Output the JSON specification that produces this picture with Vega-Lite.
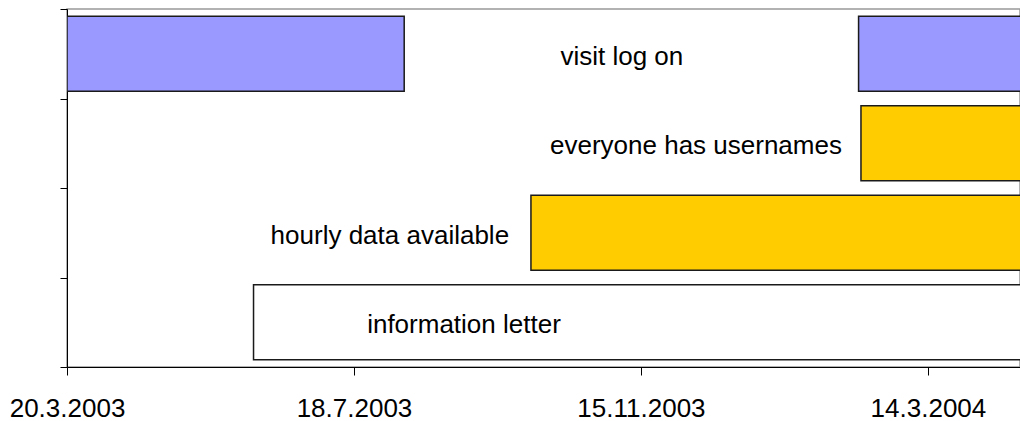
{
  "$schema": "https://vega.github.io/schema/vega-lite/v6.json",
  "autosize": {"type": "none"},
  "width": 953,
  "height": 358,
  "padding": {"left": 67, "top": 9, "right": 0, "bottom": 54},
  "background": "white",
  "config": {
    "view": {"stroke": "#999999", "strokeWidth": 1.5},
    "font": "Liberation Sans"
  },
  "datasets": {
    "bars": [
      {"task": "visit log on", "start": "2003-03-20", "end": "2003-08-08"},
      {"task": "visit log on", "start": "2004-02-14", "end": "2004-07-31"},
      {"task": "everyone has usernames", "start": "2004-02-15", "end": "2004-07-31"},
      {"task": "hourly data available", "start": "2003-09-30", "end": "2004-07-31"},
      {"task": "information letter", "start": "2003-06-06", "end": "2004-07-31"}
    ],
    "labels": [
      {"task": "visit log on", "at": "2003-11-07"},
      {"task": "everyone has usernames", "at": "2003-12-08"},
      {"task": "hourly data available", "at": "2003-08-02"},
      {"task": "information letter", "at": "2003-09-02"}
    ]
  },
  "layer": [
    {
      "data": {"name": "bars"},
      "mark": {"type": "bar", "height": {"band": 0.84}, "stroke": "#1a1a1a", "strokeWidth": 1.5, "clip": true},
      "encoding": {
        "y": {
          "field": "task", "type": "nominal",
          "sort": ["visit log on", "everyone has usernames", "hourly data available", "information letter"],
          "scale": {"paddingInner": 0, "paddingOuter": 0},
          "axis": {
            "title": null, "labels": false, "tickBand": "extent",
            "tickSize": 7, "tickColor": "black", "domainColor": "black",
            "domainWidth": 1, "tickWidth": 1, "grid": false
          }
        },
        "x": {
          "field": "start", "type": "temporal",
          "scale": {"domain": [{"year": 2003, "month": 3, "date": 20}, {"year": 2004, "month": 4, "date": 21, "hours": 12}], "nice": false},
          "axis": {
            "title": null,
            "values": [
              {"year": 2003, "month": 3, "date": 20},
              {"year": 2003, "month": 7, "date": 18},
              {"year": 2003, "month": 11, "date": 15},
              {"year": 2004, "month": 3, "date": 14}
            ],
            "format": "%-d.%-m.%Y",
            "labelFontSize": 26, "labelColor": "black", "labelFont": "Liberation Sans",
            "labelFlush": false, "labelBound": false, "labelOverlap": false,
            "labelPadding": 20, "tickSize": 8, "tickColor": "black",
            "domainColor": "black", "domainWidth": 1, "grid": false
          }
        },
        "x2": {"field": "end"},
        "color": {
          "field": "task", "type": "nominal", "legend": null,
          "scale": {
            "domain": ["visit log on", "everyone has usernames", "hourly data available", "information letter"],
            "range": ["#9999FF", "#FFCC00", "#FFCC00", "#FFFFFF"]
          }
        }
      }
    },
    {
      "data": {"name": "labels"},
      "mark": {"type": "text", "fontSize": 26, "font": "Liberation Sans", "align": "center", "baseline": "middle", "dy": 3, "color": "black"},
      "encoding": {
        "y": {"field": "task", "type": "nominal", "sort": ["visit log on", "everyone has usernames", "hourly data available", "information letter"]},
        "x": {"field": "at", "type": "temporal"},
        "text": {"field": "task"}
      }
    }
  ]
}
